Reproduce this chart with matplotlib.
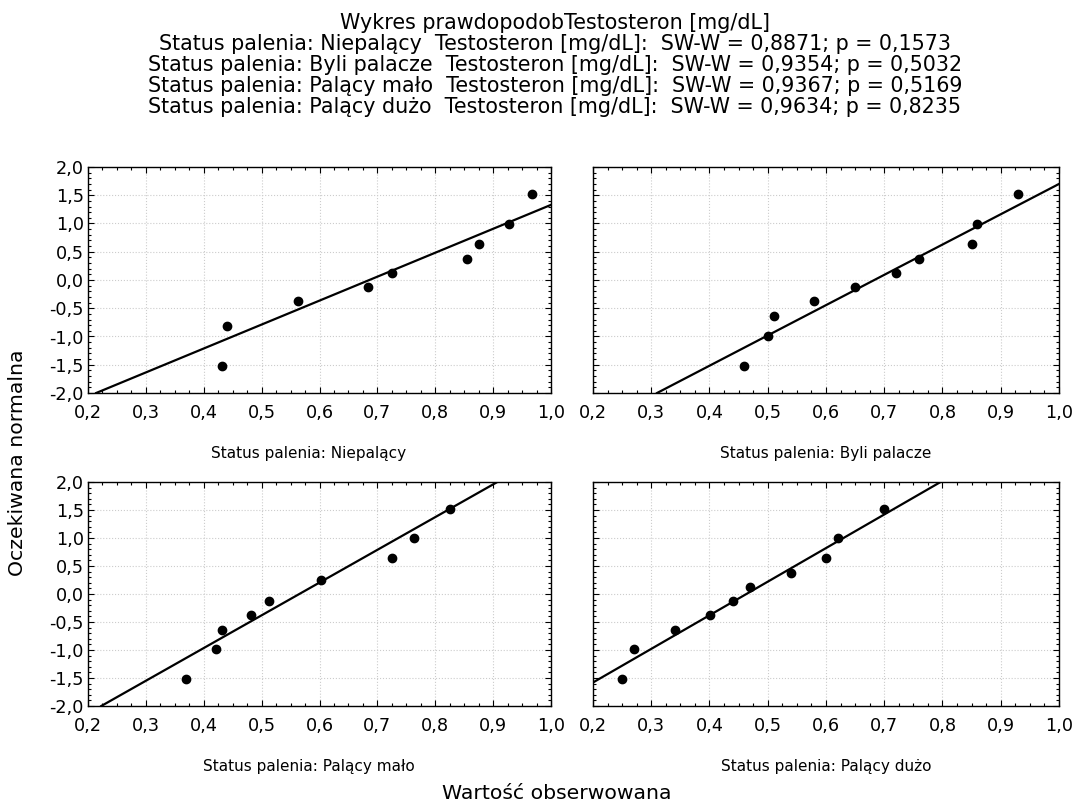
import matplotlib.pyplot as plt
from matplotlib.ticker import MultipleLocator, FuncFormatter

plt.rcParams['font.family'] = ['DejaVu Sans']

# Groups and stats
groups = ["Niepalący", "Byli palacze", "Palący mało", "Palący dużo"]
sw_w = ["0,8871", "0,9354", "0,9367", "0,9634"]
p_vals = ["0,1573", "0,5032", "0,5169", "0,8235"]

obs_niepal = [0.432, 0.441, 0.563, 0.684, 0.725, 0.855, 0.876, 0.927, 0.967]
exp_niepal = [-1.515, -0.81, -0.37, -0.118, 0.118, 0.367, 0.645, 0.994, 1.515]

obs_byli = [0.460, 0.500, 0.510, 0.580, 0.649, 0.720, 0.760, 0.850, 0.859, 0.930]
exp_byli = [-1.515, -0.994, -0.645, -0.373, -0.118, 0.118, 0.367, 0.645, 0.994, 1.515]

obs_malo = [0.370, 0.422, 0.432, 0.481, 0.513, 0.603, 0.725, 0.764, 0.825]
exp_malo = [-1.509, -0.988, -0.645, -0.373, -0.124, 0.249, 0.651, 0.994, 1.515]

obs_duzo = [0.250, 0.270, 0.341, 0.401, 0.440, 0.470, 0.540, 0.600, 0.620, 0.700]
exp_duzo = [-1.509, -0.988, -0.645, -0.373, -0.124, 0.124, 0.373, 0.651, 0.994, 1.515]

# Reference line per panel (intercept, slope)
line_intercept = [-2.907, -3.662, -3.303, -2.78]
line_slope = [4.237, 5.362, 5.845, 6.0]

observed = [obs_niepal, obs_byli, obs_malo, obs_duzo]
expected = [exp_niepal, exp_byli, exp_malo, exp_duzo]

fig = plt.figure(figsize=(10.74, 8.05), dpi=100)

# axes positions in pixels: left, right, top, bottom
W, H = 1074, 805
boxes = [(88, 551, 167, 393), (593, 1059, 167, 393),
         (88, 551, 482, 706), (593, 1059, 482, 706)]
label_x = [309, 826, 309, 826]
label_y = [453, 453, 766, 766]

comma = FuncFormatter(lambda v, pos: f"{v:.1f}".replace(".", ","))

for i, (l, r, t, b) in enumerate(boxes):
    ax = fig.add_axes([l / W, 1 - b / H, (r - l) / W, (b - t) / H])
    ax.set_xlim(0.2, 1.0)
    ax.set_ylim(-2.0, 2.0)
    ax.xaxis.set_major_locator(MultipleLocator(0.1))
    ax.xaxis.set_minor_locator(MultipleLocator(0.025))
    ax.yaxis.set_major_locator(MultipleLocator(0.5))
    ax.yaxis.set_minor_locator(MultipleLocator(0.1))
    ax.xaxis.set_major_formatter(comma)
    ax.yaxis.set_major_formatter(comma)
    ax.tick_params(which='both', direction='in', top=True, right=True,
                   width=0.8, labelsize=12.7)
    ax.tick_params(which='major', length=4)
    ax.tick_params(which='minor', length=2.5)
    ax.tick_params(axis='x', pad=8)
    ax.tick_params(axis='y', pad=3)
    if i % 2 == 1:
        ax.tick_params(labelleft=False)
    ax.grid(True, which='major', color='#cccccc', linestyle=':', linewidth=0.8)
    ax.set_axisbelow(True)
    for s in ax.spines.values():
        s.set_linewidth(1.0)

    ax.axline((0, line_intercept[i]), slope=line_slope[i], color='black', linewidth=1.6)
    ax.scatter(observed[i], expected[i], s=36, color='black', zorder=3, clip_on=False)

    fig.text(label_x[i] / W, 1 - label_y[i] / H, "Status palenia: " + groups[i],
             ha='center', va='center', fontsize=11)

title_lines = ["Wykres prawdopodobTestosteron [mg/dL]"]
for g, w, p in zip(groups, sw_w, p_vals):
    title_lines.append(f"Status palenia: {g}  Testosteron [mg/dL]:  SW-W = {w}; p = {p}")
fig.text(555 / W, 1 - 13 / H, "\n".join(title_lines), ha='center', va='top',
         multialignment='center', fontsize=14.9, linespacing=1.06)

fig.text(18 / W, 1 - 463 / H, "Oczekiwana normalna", rotation=90,
         ha='center', va='center', fontsize=14.7)
fig.text(557 / W, 1 - 793 / H, "Wartość obserwowana", ha='center', va='center', fontsize=14.7)

fig.savefig("out.png", dpi=100)
